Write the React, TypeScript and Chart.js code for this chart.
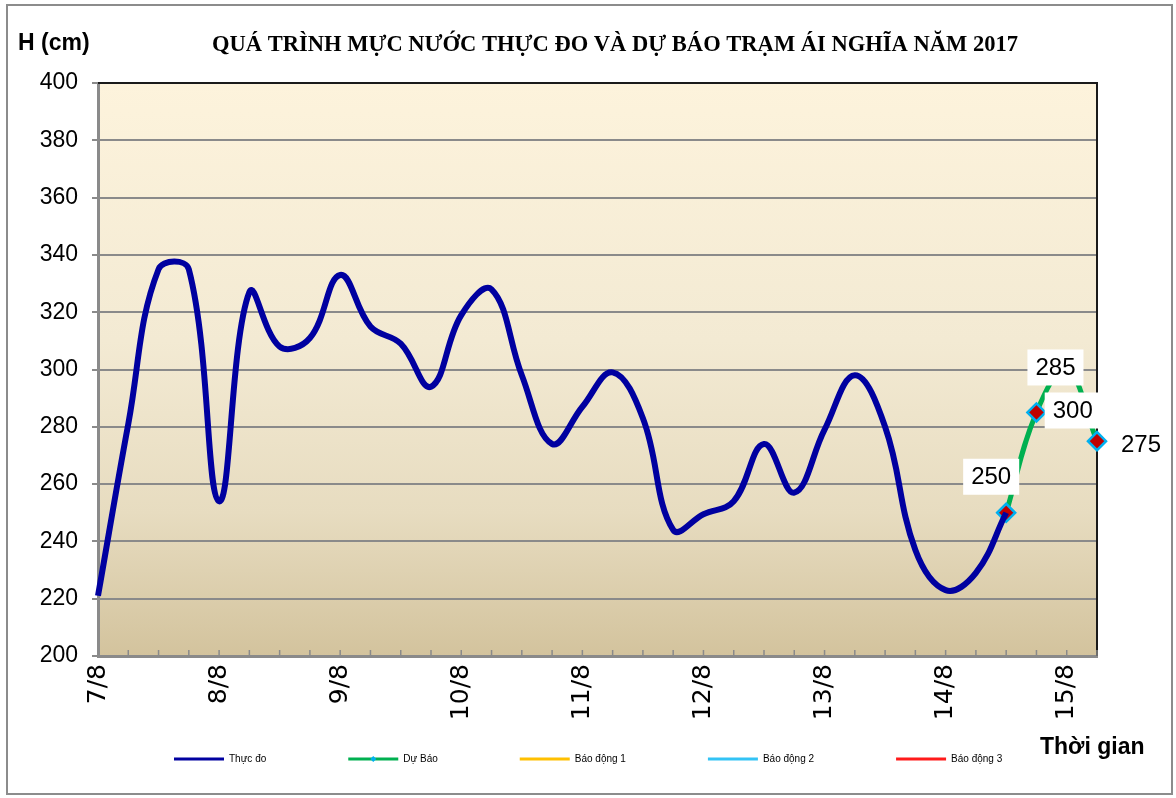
import React, { useEffect, useRef } from "react";
import { Chart, registerables } from "chart.js";

Chart.register(...registerables);

const categories = [
  "7/8", "", "", "", "8/8", "", "", "", "9/8", "", "", "", "10/8", "", "", "",
  "11/8", "", "", "", "12/8", "", "", "", "13/8", "", "", "", "14/8", "", "", "",
  "15/8", "",
];

const observed: (number | null)[] = [
  221, 281, 335, 335, 254, 327, 308, 311, 333, 315, 309, 294, 319, 328, 298, 274,
  287, 299, 283, 244, 249.5, 254, 274, 257, 279, 298, 280, 237, 223, 229, 250,
  null, null, null,
];

const forecast: (number | null)[] = [
  null, null, null, null, null, null, null, null, null, null, null, null, null, null, null, null,
  null, null, null, null, null, null, null, null, null, null, null, null, null, null, 250,
  285, 300, 275,
];

const alarm1: (number | null)[] = [];
const alarm2: (number | null)[] = [];
const alarm3: (number | null)[] = [];

const yTicks = [200, 220, 240, 260, 280, 300, 320, 340, 360, 380, 400];

const TITLE = "QUÁ TRÌNH MỰC NƯỚC THỰC ĐO VÀ DỰ BÁO TRẠM ÁI NGHĨA NĂM 2017";

// label offsets (px) for forecast data labels, indexed by point order
const labelOffsets = [
  [-15, -36],
  [19, -45],
  [6, 41],
  [44, 3],
];

const decor = {
  id: "decor",
  beforeDraw(chart: any) {
    const { ctx, chartArea: a, width, height } = chart;
    ctx.save();
    ctx.fillStyle = "#ffffff";
    ctx.fillRect(0, 0, width, height);
    ctx.strokeStyle = "#8c8c8c";
    ctx.lineWidth = 2;
    ctx.strokeRect(7, 5, 1165, 789);
    const g = ctx.createLinearGradient(0, a.top, 0, a.bottom);
    g.addColorStop(0, "#fdf3dc");
    g.addColorStop(0.45, "#f3ead3");
    g.addColorStop(0.75, "#e7dcc0");
    g.addColorStop(1, "#d3c39d");
    ctx.fillStyle = g;
    ctx.fillRect(a.left, a.top, a.right - a.left, a.bottom - a.top);
    ctx.restore();
  },
  beforeDatasetsDraw(chart: any) {
    const { ctx, chartArea: a, scales } = chart;
    ctx.save();
    ctx.strokeStyle = "#1a1a1a";
    ctx.lineWidth = 2;
    ctx.beginPath();
    ctx.moveTo(a.left, a.top);
    ctx.lineTo(a.right, a.top);
    ctx.lineTo(a.right, a.bottom);
    ctx.stroke();
    ctx.strokeStyle = "#8a8a8a";
    ctx.lineWidth = 1.5;
    const xs = scales.x;
    for (let i = 0; i < categories.length; i++) {
      const px = xs.getPixelForValue(i);
      ctx.beginPath();
      ctx.moveTo(px, a.bottom);
      ctx.lineTo(px, a.bottom - 6);
      ctx.stroke();
    }
    ctx.restore();
  },
  afterDatasetsDraw(chart: any) {
    const { ctx, scales } = chart;
    ctx.save();
    ctx.font = "24px 'Liberation Sans', Arial, sans-serif";
    ctx.textAlign = "center";
    ctx.textBaseline = "middle";
    let k = 0;
    forecast.forEach((v, i) => {
      if (v == null) return;
      const off = labelOffsets[k++] || [0, -30];
      const px = scales.x.getPixelForValue(i) + off[0];
      const py = scales.y.getPixelForValue(v) + off[1];
      const text = String(v);
      const w = ctx.measureText(text).width + 16;
      ctx.fillStyle = "#ffffff";
      ctx.fillRect(px - w / 2, py - 18, w, 36);
      ctx.fillStyle = "#000000";
      ctx.fillText(text, px, py + 1);
    });
    ctx.restore();
  },
  afterDraw(chart: any) {
    const { ctx } = chart;
    ctx.save();
    ctx.fillStyle = "#000000";
    ctx.textBaseline = "middle";
    ctx.textAlign = "left";
    ctx.font = "bold 23px 'Liberation Sans', Arial, sans-serif";
    ctx.fillText("H (cm)", 18, 44);
    ctx.fillText("Thời gian", 1040, 748);
    ctx.font = "bold 24px 'Liberation Serif', 'Times New Roman', serif";
    const tw = ctx.measureText(TITLE).width;
    const target = 806;
    ctx.save();
    ctx.translate(615, 45);
    ctx.scale(target / tw, 1);
    ctx.textAlign = "center";
    ctx.fillText(TITLE, 0, 0);
    ctx.restore();
    ctx.font = "10px 'Liberation Sans', Arial, sans-serif";
    ctx.textAlign = "left";
    let x = 174;
    const y = 759;
    chart.data.datasets.forEach((ds: any) => {
      ctx.strokeStyle = ds.borderColor;
      ctx.lineWidth = 3;
      ctx.beginPath();
      ctx.moveTo(x, y);
      ctx.lineTo(x + 50, y);
      ctx.stroke();
      if (ds.pointRadius && ds.pointRadius > 0) {
        ctx.fillStyle = ds.pointBorderColor;
        ctx.beginPath();
        ctx.moveTo(x + 25, y - 3);
        ctx.lineTo(x + 28, y);
        ctx.lineTo(x + 25, y + 3);
        ctx.lineTo(x + 22, y);
        ctx.closePath();
        ctx.fill();
      }
      ctx.fillStyle = "#000000";
      ctx.fillText(ds.label, x + 55, y);
      x += 55 + ctx.measureText(ds.label).width + 82;
    });
    ctx.restore();
  },
};

export default function App() {
  const ref = useRef<HTMLCanvasElement | null>(null);
  useEffect(() => {
    if (!ref.current) return;
    Chart.defaults.font.family = "'Liberation Sans', Arial, sans-serif";
    const chart = new Chart(ref.current, {
      type: "line",
      data: {
        labels: categories,
        datasets: [
          {
            label: "Thực đo",
            data: observed,
            borderColor: "#0000a0",
            borderWidth: 6,
            pointRadius: 0,
            tension: 0.4,
            fill: false,
          },
          {
            label: "Dự Báo",
            data: forecast,
            borderColor: "#00b050",
            borderWidth: 5,
            pointRadius: 9,
            pointHoverRadius: 9,
            pointStyle: "rectRot",
            pointBackgroundColor: "#c00000",
            pointBorderColor: "#00b0f0",
            pointBorderWidth: 2.5,
            tension: 0.4,
            fill: false,
          },
          { label: "Báo động 1", data: alarm1, borderColor: "#ffc000", borderWidth: 3, pointRadius: 0 },
          { label: "Báo động 2", data: alarm2, borderColor: "#33c3f5", borderWidth: 3, pointRadius: 0 },
          { label: "Báo động 3", data: alarm3, borderColor: "#ff1a1a", borderWidth: 3, pointRadius: 0 },
        ],
      },
      options: {
        responsive: false,
        animation: false,
        layout: { padding: { left: 0, top: 83, right: 79, bottom: 0 } },
        plugins: {
          legend: { display: false },
          title: { display: false },
          tooltip: { enabled: false },
        },
        scales: {
          x: {
            type: "category",
            offset: false,
            grid: { display: true, drawOnChartArea: false, drawTicks: false },
            border: { display: true, color: "#8a8a8a", width: 3 },
            ticks: {
              autoSkip: false,
              maxRotation: 90,
              minRotation: 90,
              padding: 8,
              color: "#000000",
              font: { family: "'DejaVu Sans', sans-serif", size: 25 },
            },
            afterFit: (s: any) => {
              s.height = 142;
            },
          },
          y: {
            type: "linear",
            min: 200,
            max: 400,
            afterBuildTicks: (s: any) => {
              s.ticks = yTicks.map((v) => ({ value: v }));
            },
            grid: { color: "#8a8a8a", lineWidth: 2, tickLength: 6, drawTicks: true },
            border: { display: true, color: "#8a8a8a", width: 3 },
            ticks: {
              padding: 14,
              color: "#000000",
              font: { size: 23 },
            },
            afterFit: (s: any) => {
              s.width = 98;
            },
          },
        },
      },
      plugins: [decor],
    });
    return () => chart.destroy();
  }, []);
  return (
    <div style={{ position: "absolute", left: 0, top: 0, width: 1176, height: 798 }}>
      <canvas ref={ref} width={1176} height={798} style={{ display: "block" }} />
    </div>
  );
}
